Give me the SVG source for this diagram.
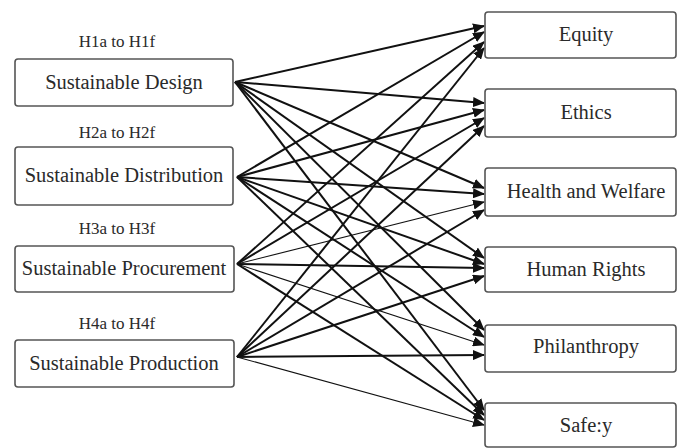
<svg xmlns="http://www.w3.org/2000/svg" width="679" height="448" viewBox="0 0 679 448">
<style>
.box{fill:#fff;stroke:#555;stroke-width:1.6}
.lbl{font-family:"Liberation Serif",serif;font-size:20.5px;fill:#2a2a2a;text-anchor:middle}
.hyp{font-family:"Liberation Serif",serif;font-size:17px;fill:#2a2a2a;text-anchor:middle}
.c{stroke:#111;stroke-width:2;fill:none;marker-end:url(#ah)}
.t{stroke-width:1.1}
</style>
<defs>
<marker id="ah" markerUnits="userSpaceOnUse" markerWidth="12" markerHeight="10" refX="11" refY="5" orient="auto">
<path d="M0,0 L12,5 L0,10 Z" fill="#111"/>
</marker>
</defs>
<rect width="679" height="448" fill="#fff"/>
<g id="connectors">
<line class="c" x1="235" y1="82" x2="484" y2="26"/>
<line class="c" x1="235" y1="82" x2="484" y2="103"/>
<line class="c" x1="235" y1="82" x2="484" y2="188"/>
<line class="c" x1="235" y1="82" x2="484" y2="258"/>
<line class="c" x1="235" y1="82" x2="484" y2="330"/>
<line class="c" x1="235" y1="82" x2="484" y2="410"/>
<line class="c" x1="237" y1="177" x2="484" y2="32"/>
<line class="c" x1="237" y1="177" x2="484" y2="110"/>
<line class="c" x1="237" y1="177" x2="484" y2="194"/>
<line class="c" x1="237" y1="177" x2="484" y2="264"/>
<line class="c" x1="237" y1="177" x2="484" y2="337"/>
<line class="c" x1="237" y1="177" x2="484" y2="415"/>
<line class="c" x1="237" y1="264" x2="484" y2="42"/>
<line class="c" x1="237" y1="264" x2="484" y2="118"/>
<line class="c t" x1="237" y1="264" x2="484" y2="202"/>
<line class="c" x1="237" y1="264" x2="484" y2="268"/>
<line class="c t" x1="237" y1="264" x2="484" y2="345"/>
<line class="c" x1="237" y1="264" x2="484" y2="420"/>
<line class="c" x1="237" y1="357" x2="484" y2="48"/>
<line class="c" x1="237" y1="357" x2="484" y2="126"/>
<line class="c" x1="237" y1="357" x2="484" y2="210"/>
<line class="c" x1="237" y1="357" x2="484" y2="276"/>
<line class="c" x1="237" y1="357" x2="484" y2="355"/>
<line class="c t" x1="237" y1="357" x2="484" y2="425"/>
</g>
<text class="hyp" x="117" y="47">H1a to H1f</text>
<text class="hyp" x="117" y="138">H2a to H2f</text>
<text class="hyp" x="117" y="234">H3a to H3f</text>
<text class="hyp" x="117" y="329">H4a to H4f</text>
<g id="design"><rect class="box" x="15" y="59" width="218" height="47" rx="3"/><text class="lbl" x="124" y="89">Sustainable Design</text></g>
<g id="distribution"><rect class="box" x="15" y="147" width="218" height="58" rx="3"/><text class="lbl" x="124" y="182">Sustainable Distribution</text></g>
<g id="procurement"><rect class="box" x="15" y="246" width="219" height="46" rx="3"/><text class="lbl" x="124" y="275">Sustainable Procurement</text></g>
<g id="production"><rect class="box" x="15" y="340" width="219" height="47" rx="3"/><text class="lbl" x="124" y="370">Sustainable Production</text></g>
<g id="equity"><rect class="box" x="485" y="12" width="191" height="46" rx="3"/><text class="lbl" x="586" y="41">Equity</text></g>
<g id="ethics"><rect class="box" x="485" y="89" width="191" height="48" rx="3"/><text class="lbl" x="586" y="119">Ethics</text></g>
<g id="health"><rect class="box" x="485" y="168" width="191" height="48" rx="3"/><text class="lbl" x="586" y="198">Health and Welfare</text></g>
<g id="humanrights"><rect class="box" x="485" y="247" width="191" height="45" rx="3"/><text class="lbl" x="586" y="276">Human Rights</text></g>
<g id="philanthropy"><rect class="box" x="485" y="325" width="191" height="47" rx="3"/><text class="lbl" x="586" y="353">Philanthropy</text></g>
<g id="safety"><rect class="box" x="485" y="403" width="191" height="44" rx="3"/><text class="lbl" x="586" y="432">Safe:y</text></g>
</svg>
